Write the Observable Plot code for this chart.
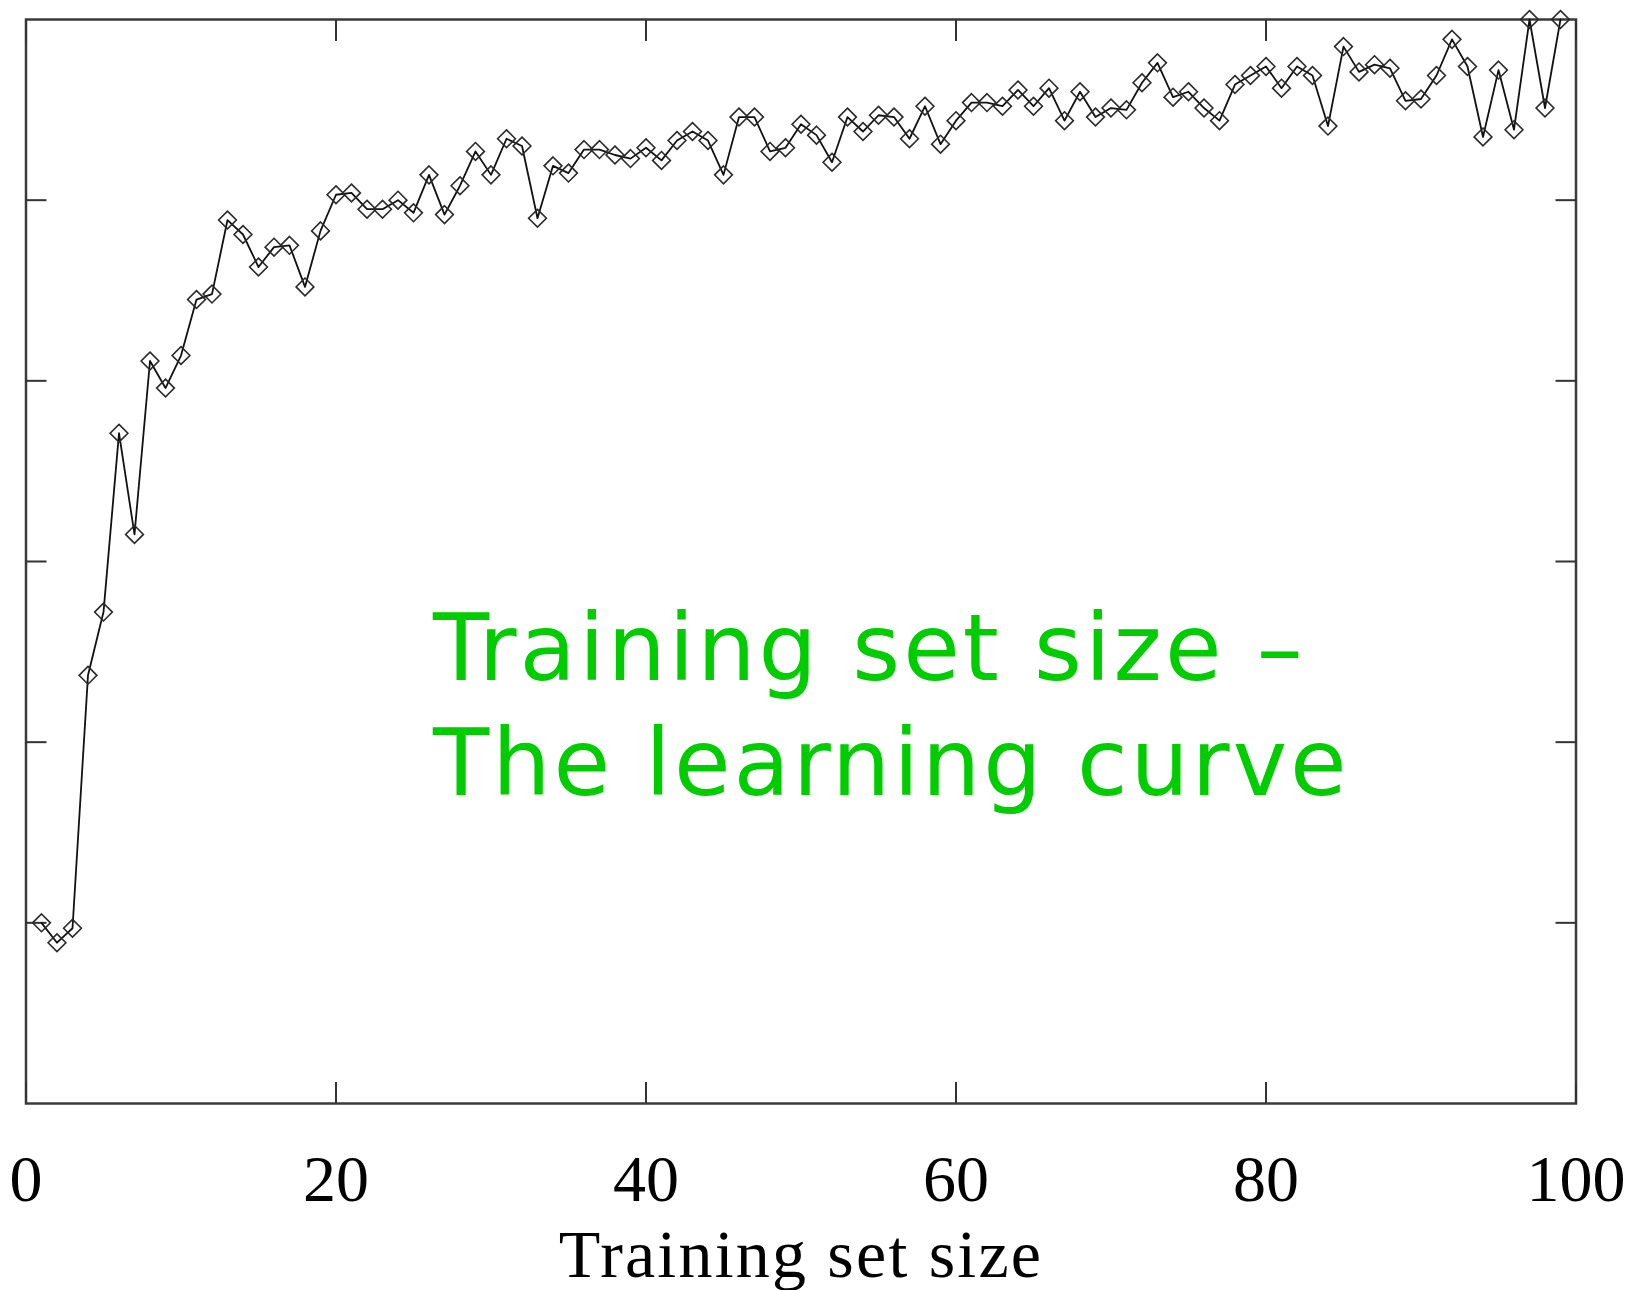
<!DOCTYPE html>
<html>
<head>
<meta charset="utf-8">
<script src="https://cdn.jsdelivr.net/npm/d3@7"></script>
<script src="https://cdn.jsdelivr.net/npm/@observablehq/plot@0.6"></script>
<style>
  html, body { margin: 0; padding: 0; background: #fff; }
  #wrap { position: relative; width: 1647px; height: 1290px; }
  #note {
    position: absolute; left: 433px; top: 591px;
    font-family: "DejaVu Sans", Verdana, sans-serif;
    font-size: 92px; line-height: 115px; letter-spacing: 3px;
    color: #00cc00; white-space: nowrap;
  }
  g.xtitle { letter-spacing: 2.2px; }
</style>
</head>
<body>
<div id="wrap">
  <div id="chart"></div>
  <div id="note">Training set size –<br>The learning curve</div>
</div>
<script>
// Training set sizes (1..99) and proportion correct on the test set
const sizes = d3.range(1, 100);
const accuracy = [
  0.500, 0.489, 0.497, 0.637, 0.672, 0.771, 0.715, 0.811, 0.796, 0.814,
  0.845, 0.848, 0.889, 0.881, 0.863, 0.874, 0.875, 0.852, 0.883, 0.903,
  0.904, 0.895, 0.895, 0.900, 0.893, 0.914, 0.892, 0.908, 0.927, 0.914,
  0.934, 0.930, 0.890, 0.919, 0.915, 0.928, 0.928, 0.925, 0.923, 0.929,
  0.922, 0.933, 0.938, 0.933, 0.914, 0.946, 0.946, 0.927, 0.929, 0.942,
  0.936, 0.921, 0.946, 0.938, 0.947, 0.946, 0.934, 0.952, 0.931, 0.944,
  0.954, 0.954, 0.952, 0.961, 0.952, 0.962, 0.944, 0.960, 0.946, 0.951,
  0.950, 0.965, 0.976, 0.957, 0.960, 0.951, 0.944, 0.964, 0.969, 0.974,
  0.962, 0.974, 0.969, 0.941, 0.985, 0.971, 0.975, 0.973, 0.955, 0.956,
  0.969, 0.989, 0.974, 0.935, 0.972, 0.939, 1.000, 0.951, 1.000
];
const xTicks = [0, 20, 40, 60, 80, 100];
const yTicks = [0.5, 0.6, 0.7, 0.8, 0.9];
const xTitle = ["Training set size"];

const data = sizes.map((s, i) => ({size: s, acc: accuracy[i]}));

const chart = Plot.plot({
  width: 1647,
  height: 1290,
  marginLeft: 25.5,
  marginRight: 71.5,
  marginTop: 19,
  marginBottom: 187,
  style: {background: "#fff", fontFamily: "'Liberation Serif', 'Times New Roman', serif", color: "#000"},
  x: {domain: [0, 100]},
  y: {domain: [0.4, 1.0]},
  marks: [
    Plot.frame({stroke: "#3a3a3a", strokeWidth: 2.5}),
    Plot.axisX(xTicks, {anchor: "bottom", tickSize: -21, tickPadding: 21 + 51, fontSize: 66, label: null, stroke: "#333", strokeWidth: 2, fill: "#000"}),
    Plot.axisX(xTicks, {anchor: "top", tickSize: -21, tickFormat: () => "", label: null, stroke: "#333", strokeWidth: 2}),
    Plot.axisY(yTicks, {anchor: "left", tickSize: -21, tickFormat: () => "", label: null, stroke: "#333", strokeWidth: 2}),
    Plot.axisY(yTicks, {anchor: "right", tickSize: -21, tickFormat: () => "", label: null, stroke: "#333", strokeWidth: 2}),
    Plot.text(xTitle, {text: d => d, frameAnchor: "bottom", lineAnchor: "bottom", dy: 173, fontSize: 68, fill: "#000", className: "xtitle"}),
    Plot.line(data, {x: "size", y: "acc", stroke: "#111", strokeWidth: 1.8}),
    Plot.dot(data, {x: "size", y: "acc", symbol: "diamond2", r: 8, stroke: "#2a2a2a", strokeWidth: 1.6, fill: "none"})
  ]
});
document.getElementById("chart").appendChild(chart);
</script>
</body>
</html>
